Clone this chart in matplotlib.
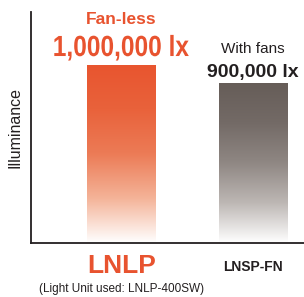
import numpy as np
import matplotlib.pyplot as plt
from matplotlib.colors import LinearSegmentedColormap
from matplotlib.patches import Rectangle, PathPatch
from matplotlib.textpath import TextPath
from matplotlib.font_manager import FontProperties
from matplotlib.transforms import Affine2D, ScaledTranslation

models = ['LNLP', 'LNSP-FN']
lux = [1000000, 900000]
top_notes = ['Fan-less', 'With fans']
value_labels = ['1,000,000 lx', '900,000 lx']
label_colors = ['#E8532F', '#231F20']
# gradient stops bottom -> top
bar_grads = [
    ['#FFFFFF', '#F4B398', '#EC7B56', '#E9623B', '#E8552F'],
    ['#FFFFFF', '#BDB7B4', '#8F8783', '#736A66', '#665D58'],
]

plt.rcParams['font.family'] = ['Liberation Sans', 'DejaVu Sans']

fig = plt.figure(figsize=(3.04, 2.97), dpi=100)
ax = fig.add_axes([0.102, 0.182, 0.898, 0.778])

x = np.arange(len(models))
width = 0.52
xlim = (-0.69, 1.39)
ylim = (0, 1298000)

grad = np.linspace(0, 1, 256).reshape(-1, 1)
for i in range(len(models)):
    stops = list(zip(np.linspace(0, 1, len(bar_grads[i])), bar_grads[i]))
    cmap = LinearSegmentedColormap.from_list('g', stops)
    rect = Rectangle((x[i] - width / 2, 0), width, lux[i], facecolor='none', edgecolor='none')
    ax.add_patch(rect)
    im = ax.imshow(grad, cmap=cmap, aspect='auto', origin='lower',
                   extent=[x[i] - width / 2, x[i] + width / 2, 0, lux[i]], zorder=1)
    im.set_clip_path(rect)

ax.set_xlim(*xlim)
ax.set_ylim(*ylim)


def condensed_text(s, xd, yd, size, color, squeeze=0.84):
    # narrow bold text: squash a text path horizontally
    fp = FontProperties(family='Liberation Sans', weight='bold')
    tp = TextPath((0, 0), s, size=size, prop=fp)
    bb = tp.get_extents()
    k = fig.dpi / 72
    tr = (Affine2D().translate(-(bb.x0 + bb.x1) / 2, 0).scale(squeeze * k, k)
          + ScaledTranslation(xd, yd, ax.transData))
    p = PathPatch(tp, facecolor=color, edgecolor='none', transform=tr, clip_on=False)
    fig.patches.append(p)
    p.set_figure(fig)


# labels above bars
condensed_text(value_labels[0], x[0], lux[0] + 50000, 21, label_colors[0])
ax.text(x[0], lux[0] + 215000, top_notes[0], ha='center', va='bottom',
        fontsize=12.5, fontweight='bold', color=label_colors[0])
ax.text(x[1], lux[1] + 7000, value_labels[1], ha='center', va='bottom',
        fontsize=14, fontweight='bold', color=label_colors[1])
ax.text(x[1], lux[1] + 150000, top_notes[1], ha='center', va='bottom',
        fontsize=11, color=label_colors[1])

for s in ['top', 'right']:
    ax.spines[s].set_visible(False)
for s in ['left', 'bottom']:
    ax.spines[s].set_linewidth(1.3)
    ax.spines[s].set_color('#231F20')
ax.set_yticks([])
ax.set_xticks([])
ax.set_ylabel('Illuminance', fontsize=11.5, color='#231F20', labelpad=6)

# category labels under the axis
ax.text(x[0], -0.05, models[0], transform=ax.get_xaxis_transform(), ha='center', va='top',
        fontsize=19, fontweight='bold', color=label_colors[0])
ax.text(x[1], -0.075, models[1], transform=ax.get_xaxis_transform(), ha='center', va='top',
        fontsize=10, fontweight='bold', color=label_colors[1])
ax.text(x[0], -0.175, '(Light Unit used: LNLP-400SW)', transform=ax.get_xaxis_transform(),
        ha='center', va='top', fontsize=8.5, color='#231F20')

fig.savefig('out.png', dpi=100)
